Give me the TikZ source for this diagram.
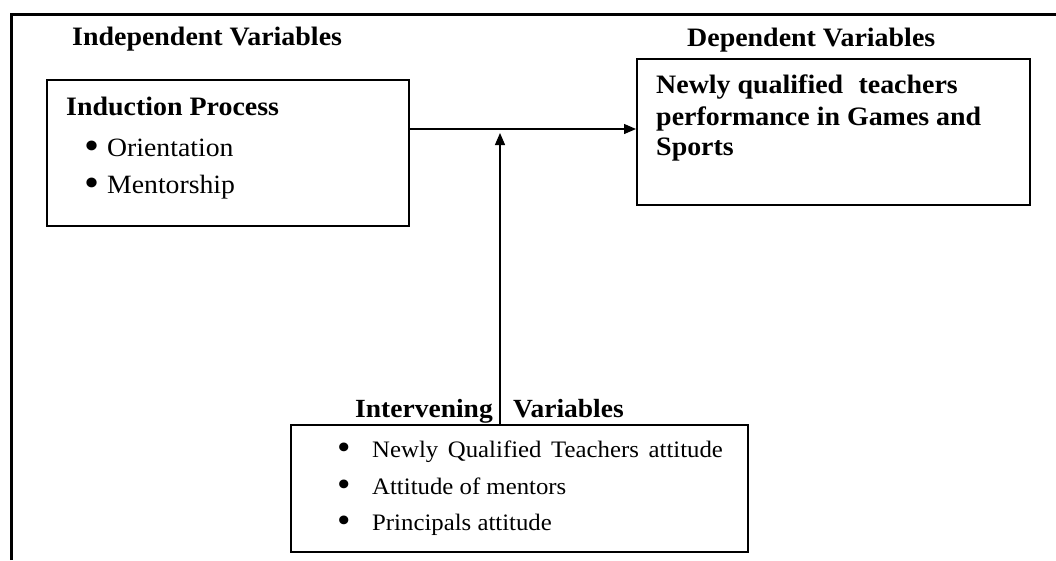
\documentclass[tikz,border=0pt]{standalone}
\usepackage{fontspec}
\setmainfont{Liberation Serif}
\usetikzlibrary{arrows.meta}
\newcommand{\bigbul}{\raisebox{-0.12em}{\scalebox{1.55}{\textbullet}}}
\begin{document}
\begin{tikzpicture}[x=1pt,y=-1pt,
  box/.style={draw, line width=1.5pt, inner sep=0pt, anchor=north west},
  tx/.style={inner sep=0pt, anchor=base west, xscale=1.05},
  hb/.style={tx, font=\fontsize{26.6}{30}\selectfont\bfseries},
  rg/.style={tx, font=\fontsize{26.4}{30}\selectfont},
  sm/.style={tx, font=\fontsize{23.6}{27}\selectfont},
  arr/.style={line width=1.3pt, -{Triangle[length=12pt,width=10pt]}}]
\useasboundingbox (0,0) rectangle (1056,560);
% outer frame
\draw[line width=3pt] (11,560) -- (11,14) -- (1056,14);
% headings
\node[hb] (indep) at (72,45) {Independent Variables};
\node[hb] (dept) at (687,46) {Dependent Variables};
% induction box
\node[box, minimum width=362pt, minimum height=146pt] (ind) at (46,79) {};
\node[hb] (indt) at (66,115) {Induction Process};
\node[rg] (b1) at (84,156) {\bigbul};
\node[rg] (o1) at (107,156) {Orientation};
\node[rg] (b2) at (84,193) {\bigbul};
\node[rg] (o2) at (107,193) {Mentorship};
% dependent box
\node[box, minimum width=393pt, minimum height=146pt] (dep) at (636,58) {};
\node[hb] (d1) at (656,93) {Newly qualified\hspace{0.55em}teachers};
\node[hb] (d2) at (656,125) {performance in Games and};
\node[hb] (d3) at (656,155) {Sports};
% intervening box
\node[box, minimum width=457pt, minimum height=127pt] (int) at (290,424) {};
\node[hb, font=\fontsize{26.2}{30}\selectfont\bfseries] (it1) at (355,417) {Intervening};
\node[hb, font=\fontsize{26.2}{30}\selectfont\bfseries] (it2) at (513,417) {Variables};
\node[sm] (c1) at (337,457) {\bigbul};
\node[sm] (i1) at (372,457) {\makebox[334pt][s]{Newly Qualified Teachers attitude}};
\node[sm] (c2) at (337,494) {\bigbul};
\node[sm] (i2) at (372,494) {Attitude of mentors};
\node[sm] (c3) at (337,530) {\bigbul};
\node[sm] (i3) at (372,530) {Principals attitude};
% connectors
\coordinate (mid) at (500,129);
\coordinate (tip) at (500,133);
\draw[arr] (ind.north east |- mid) -- (dep.west |- mid);
\draw[arr] (int.north -| tip) -- (tip);
\end{tikzpicture}
\end{document}
